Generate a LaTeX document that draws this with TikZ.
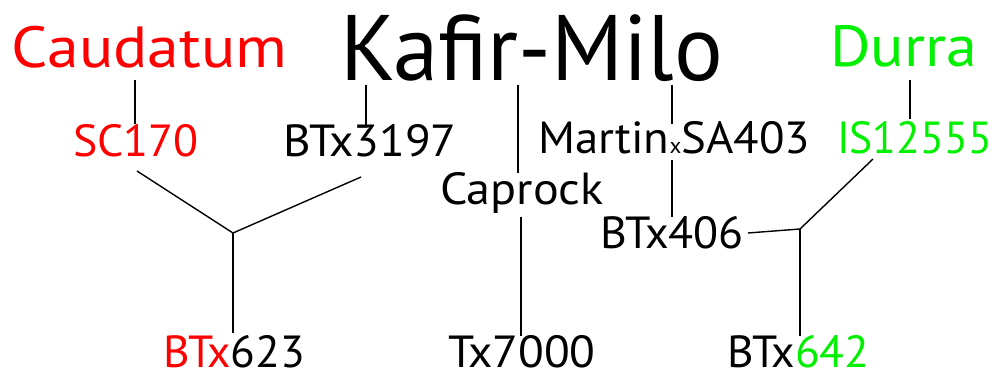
\documentclass[tikz,border=0pt]{standalone}
\usepackage{fontspec}
\usepackage{graphicx}
\setmainfont{PT Sans}
\definecolor{cred}{RGB}{255,0,0}
\definecolor{cgreen}{RGB}{0,240,0}
\newcommand{\hsc}[2]{\scalebox{#1}[1]{#2}}
\begin{document}
\begin{tikzpicture}[x=1pt,y=-1pt,
  lbl/.style={anchor=base west,inner sep=0pt,outer sep=0pt,font=\fontsize{45}{50}\selectfont},
  big/.style={anchor=base west,inner sep=0pt,outer sep=0pt,font=\fontsize{58}{60}\selectfont},
  huge/.style={anchor=base west,inner sep=0pt,outer sep=0pt,font=\fontsize{93}{95}\selectfont},
  link/.style={line width=1.4pt,black}]
\useasboundingbox (0,0) rectangle (995,375);
% top labels
\node[big,text=cred] (caud) at (12,67) {\hsc{1.1}{Caudatum}};
\node[huge] (kafir) at (340,80) {\hsc{0.98}{Kafir-Milo}};
\node[big,text=cgreen] (durra) at (830,66) {\hsc{1.07}{Durra}};
% second row
\node[lbl,text=cred] (sc) at (73,156) {\hsc{1.02}{SC170}};
\node[lbl] (btx3197) at (283,156) {\hsc{1.05}{BTx3197}};
\node[lbl] (martin) at (538,153) {\hsc{1.04}{Martin{\fontsize{22}{24}\selectfont x}SA403}};
\node[lbl,text=cgreen] (is) at (837,153) {\hsc{0.97}{IS12555}};
\node[lbl] (caprock) at (440,204) {\hsc{1.07}{Caprock}};
\node[lbl] (btx406) at (600,248) {\hsc{1.02}{BTx406}};
% bottom
\node[lbl] (btx623) at (163,367) {\hsc{1.01}{\textcolor{cred}{BTx}623}};
\node[lbl] (tx7000) at (448,367) {\hsc{1.05}{Tx7000}};
\node[lbl] (btx642) at (727,367) {\hsc{1.01}{BTx\textcolor{cgreen}{642}}};
% connector end points
\coordinate (caudB) at (135,80);
\coordinate (scT) at (135,124);
\coordinate (kafB1) at (366,85);
\coordinate (b3197T) at (366,125);
\coordinate (kafB2) at (518,85);
\coordinate (capT) at (518,173);
\coordinate (kafB3) at (672,85);
\coordinate (martT) at (672,124);
\coordinate (durB) at (910,80);
\coordinate (isT) at (910,119);
\coordinate (scB) at (137,171);
\coordinate (b3197B) at (361,177);
\coordinate (j1) at (233,233);
\coordinate (b623T) at (233,333);
\coordinate (capB) at (521,217);
\coordinate (tx7T) at (521,336);
\coordinate (martB) at (672,160);
\coordinate (b406T) at (672,217);
\coordinate (b406R) at (748,233);
\coordinate (j2) at (800,229);
\coordinate (isB) at (873,159);
\coordinate (b642T) at (800,336);
% connectors
\draw[link] (caudB) -- (scT);
\draw[link] (kafB1) -- (b3197T);
\draw[link] (kafB2) -- (capT);
\draw[link] (kafB3) -- (martT);
\draw[link] (durB) -- (isT);
\draw[link] (scB) -- (j1) -- (b3197B);
\draw[link] (j1) -- (b623T);
\draw[link] (capB) -- (tx7T);
\draw[link] (martB) -- (b406T);
\draw[link] (b406R) -- (j2) -- (isB);
\draw[link] (j2) -- (b642T);
\end{tikzpicture}
\end{document}
